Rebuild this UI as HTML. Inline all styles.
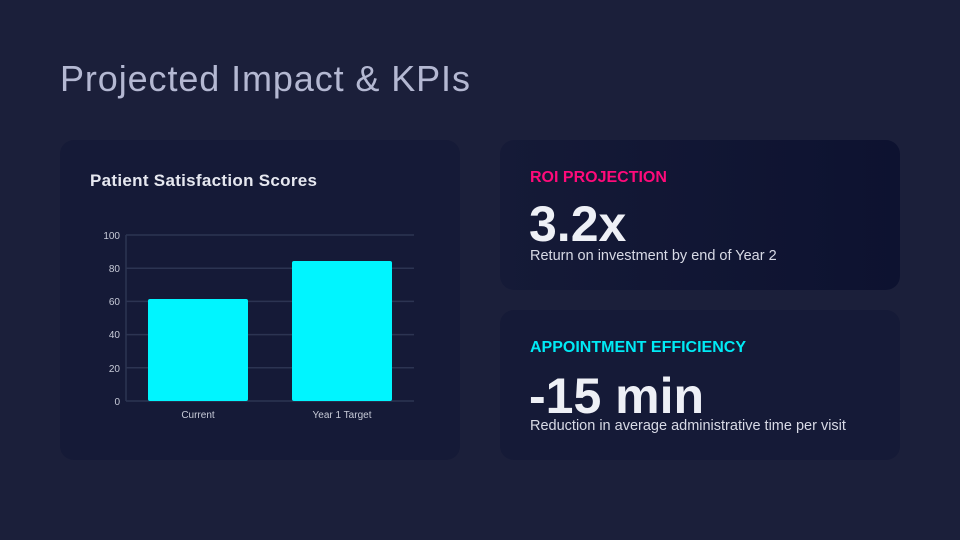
<!DOCTYPE html>
<html><head><meta charset="utf-8"><style>
*{margin:0;padding:0;box-sizing:border-box}
body{width:960px;height:540px;background:#1b1f3a;font-family:"Liberation Sans",sans-serif;position:relative;overflow:hidden}
h1{position:absolute;left:60px;top:58px;font-size:36px;font-weight:300;color:#b4b8d2;letter-spacing:0.9px}
.card{position:absolute;border-radius:14px;background:#151a37}
.lab{position:absolute;left:30px;font-size:16px;font-weight:bold}
.big{position:absolute;left:29px;font-size:50px;font-weight:bold;color:#eef0f6}
.sub{position:absolute;left:30px;font-size:14.5px;color:#d8dae6}
</style></head><body>
<h1>Projected Impact &amp; KPIs</h1>
<div class="card" style="left:60px;top:140px;width:400px;height:320px">
<div style="position:absolute;left:30px;top:31px;font-size:17px;font-weight:bold;color:#e6e8f0;letter-spacing:0.3px">Patient Satisfaction Scores</div>
</div>
<svg style="position:absolute;left:0;top:0" width="960" height="540">
<g stroke="#2c3452" stroke-width="1.5">
<line x1="126" y1="235" x2="414" y2="235"/><line x1="126" y1="268.2" x2="414" y2="268.2"/>
<line x1="126" y1="301.4" x2="414" y2="301.4"/><line x1="126" y1="334.6" x2="414" y2="334.6"/>
<line x1="126" y1="367.8" x2="414" y2="367.8"/><line x1="126" y1="401" x2="414" y2="401"/>
<line x1="126" y1="235" x2="126" y2="401"/>
</g>
<g fill="#00f5ff"><rect x="148" y="299" width="100" height="102" rx="2"/><rect x="292" y="261" width="100" height="140" rx="2"/></g>
<g fill="#c8cbd8" font-family="Liberation Sans" font-size="10" text-anchor="end">
<text x="120" y="239">100</text><text x="120" y="272">80</text><text x="120" y="305">60</text>
<text x="120" y="338">40</text><text x="120" y="372">20</text><text x="120" y="405">0</text>
</g>
<g fill="#c8cbd8" font-family="Liberation Sans" font-size="10" text-anchor="middle">
<text x="198" y="418">Current</text><text x="342" y="418">Year 1 Target</text></g>
</svg>
<div class="card" style="left:500px;top:140px;width:400px;height:150px;background:linear-gradient(90deg,#151a37,#0d1230)">
<div class="lab" style="top:29px;color:#ff0a7a">ROI PROJECTION</div>
<div class="big" style="top:55px">3.2x</div>
<div class="sub" style="top:108px">Return on investment by end of Year 2</div>
</div>
<div class="card" style="left:500px;top:310px;width:400px;height:150px">
<div class="lab" style="top:29px;color:#00eaf5">APPOINTMENT EFFICIENCY</div>
<div class="big" style="top:57px">-15 min</div>
<div class="sub" style="top:108px">Reduction in average administrative time per visit</div>
</div>
</body></html>
